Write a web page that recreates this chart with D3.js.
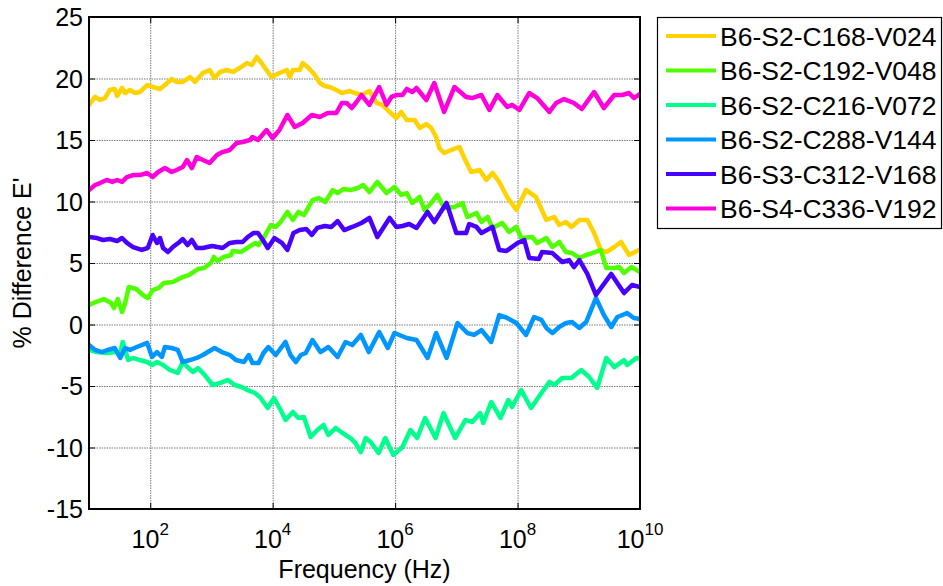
<!DOCTYPE html>
<html lang="en">
<head>
  <meta charset="UTF-8"/>
  <title>% Difference E' vs Frequency</title>
  <script src="https://d3js.org/d3.v7.min.js"></script>
  <style>
    body { margin: 0; background: #fff; }
    text { font-family: "Liberation Sans", Arial, sans-serif; fill: #000; }
  </style>
</head>
<body>
<script>
  // x values are log10(frequency in Hz), y values are % difference of E'
  var names = ["B6-S2-C168-V024", "B6-S2-C192-V048", "B6-S2-C216-V072",
               "B6-S2-C288-V144", "B6-S3-C312-V168", "B6-S4-C336-V192"];
  var colors = ["#ffd200", "#50ff00", "#00ff8c", "#0096ff", "#4800ff", "#ff00dc"];

  var xTicks = [1e2, 1e4, 1e6, 1e8, 1e10];
  var yTicks = [-15, -10, -5, 0, 5, 10, 15, 20, 25];

  var s168 = [[1.00,17.85],[1.10,18.50],[1.18,18.25],[1.26,18.41],[1.34,19.07],[1.42,19.15],[1.46,18.58],[1.54,19.23],[1.59,18.82],[1.67,19.07],[1.75,18.82],[1.83,18.90],[1.95,19.47],[2.04,19.31],[2.16,19.15],[2.24,19.47],[2.35,19.96],[2.43,19.72],[2.53,19.72],[2.65,20.12],[2.73,19.72],[2.86,20.45],[2.97,20.69],[3.05,20.04],[3.14,20.53],[3.25,20.69],[3.35,20.53],[3.46,20.85],[3.58,21.26],[3.66,21.10],[3.74,21.75],[3.84,21.10],[3.98,20.12],[4.11,20.45],[4.23,20.69],[4.28,20.12],[4.33,20.69],[4.44,20.69],[4.49,21.26],[4.57,20.93],[4.69,20.28],[4.77,19.63],[4.85,19.39],[4.93,19.31],
    [5.04,19.07],[5.13,18.82],[5.26,18.98],[5.34,18.82],[5.45,18.66],[5.58,18.98],[5.70,18.01],[5.79,17.85],[5.91,17.28],[6.02,16.79],[6.10,17.28],[6.19,16.63],[6.32,16.63],[6.40,15.98],[6.51,16.30],[6.59,15.98],[6.67,15.24],[6.72,14.35],[6.80,13.94],[6.92,14.19],[7.05,14.43],[7.13,13.54],[7.24,12.40],[7.38,12.56],[7.49,11.75],[7.59,12.32],[7.70,11.59],[7.83,10.37],[7.98,9.31],[8.14,10.93],[8.30,10.37],[8.47,8.50],[8.60,8.74],[8.68,8.09],[8.79,8.33],[8.88,7.93],[9.01,8.50],[9.14,8.50],[9.25,7.44],[9.36,6.06],[9.45,5.89],[9.58,6.30],[9.69,6.71],[9.82,5.65],[10.0,6.10]];

  var s192 = [[1.00,1.59],[1.11,1.83],[1.24,2.07],[1.36,1.75],[1.41,1.34],[1.47,2.07],[1.54,1.02],[1.59,1.75],[1.65,3.05],[1.77,2.89],[1.88,2.40],[1.96,2.15],[2.04,2.80],[2.14,2.97],[2.22,3.37],[2.37,3.46],[2.53,3.86],[2.63,4.02],[2.78,4.51],[2.88,4.59],[2.99,5.00],[3.04,5.49],[3.10,5.16],[3.20,5.49],[3.32,5.65],[3.35,5.98],[3.48,5.89],[3.61,6.30],[3.72,6.63],[3.77,6.46],[3.85,7.03],[3.97,8.09],[4.05,7.93],[4.13,8.33],[4.24,9.15],[4.33,8.50],[4.42,9.15],[4.51,8.90],[4.65,10.12],[4.75,10.28],[4.86,9.96],[4.98,10.93],[5.06,10.69],[5.16,11.02],[5.27,10.93],[5.39,11.10],[5.48,11.34],[5.58,10.77],[5.71,11.59],[5.86,10.69],[5.99,11.18],[6.10,10.53],[6.19,10.69],[6.28,9.88],[6.40,10.37],[6.48,9.31],[6.59,9.88],[6.69,10.53],[6.80,9.47],[6.97,9.55],[7.10,9.88],[7.18,8.74],[7.33,9.07],[7.41,8.33],[7.51,8.74],[7.59,7.85],[7.75,8.25],[7.86,7.52],[7.98,7.93],[8.06,7.03],[8.24,7.11],[8.32,6.63],[8.47,7.03],[8.57,6.30],[8.68,6.71],[8.79,5.89],[8.89,5.81],[9.01,5.41],[9.12,5.65],[9.22,5.81],[9.36,6.06],[9.45,4.59],[9.58,4.59],[9.66,4.67],[9.74,4.19],[9.86,4.67],[10.0,4.27]];

  var s216 = [[1.00,-2.07],[1.13,-2.24],[1.29,-2.32],[1.42,-2.24],[1.51,-2.32],[1.55,-1.42],[1.64,-2.89],[1.72,-2.72],[1.83,-2.89],[1.95,-3.05],[2.03,-3.29],[2.11,-3.05],[2.21,-3.29],[2.32,-3.70],[2.45,-3.94],[2.53,-3.05],[2.61,-3.46],[2.70,-3.86],[2.78,-3.54],[2.89,-4.11],[3.02,-4.92],[3.14,-4.76],[3.27,-4.51],[3.38,-4.92],[3.49,-5.08],[3.59,-5.33],[3.71,-5.57],[3.79,-5.89],[3.92,-6.79],[4.02,-5.98],[4.13,-6.95],[4.21,-7.76],[4.33,-7.11],[4.42,-7.60],[4.51,-7.52],[4.62,-9.15],[4.73,-8.58],[4.83,-8.17],[4.91,-8.98],[5.03,-8.41],[5.14,-8.82],[5.27,-9.23],[5.35,-9.63],[5.44,-10.37],[5.52,-9.23],[5.60,-9.55],[5.73,-10.45],[5.84,-9.23],[5.97,-10.61],[6.12,-9.96],[6.25,-8.58],[6.36,-9.23],[6.49,-7.60],[6.66,-9.23],[6.79,-7.20],[6.98,-9.23],[7.15,-7.76],[7.26,-7.93],[7.39,-7.20],[7.44,-8.01],[7.57,-6.30],[7.72,-7.60],[7.85,-6.14],[7.91,-6.71],[8.06,-5.33],[8.22,-6.79],[8.39,-5.57],[8.52,-4.67],[8.60,-4.92],[8.73,-4.35],[8.88,-4.35],[9.04,-3.70],[9.17,-4.27],[9.30,-5.16],[9.45,-2.72],[9.58,-3.46],[9.74,-2.89],[9.79,-3.29],[9.94,-2.72],[10.0,-2.80]];

  var s288 = [[1.00,-1.67],[1.10,-2.07],[1.21,-2.24],[1.31,-2.07],[1.42,-1.91],[1.51,-2.72],[1.59,-1.91],[1.67,-2.07],[1.78,-1.83],[1.95,-1.50],[2.03,-2.64],[2.11,-2.24],[2.19,-2.64],[2.24,-1.83],[2.35,-1.91],[2.45,-2.07],[2.53,-3.05],[2.65,-2.89],[2.76,-2.72],[2.86,-2.48],[3.05,-1.91],[3.17,-2.24],[3.30,-2.48],[3.40,-2.89],[3.53,-3.05],[3.61,-2.48],[3.67,-3.13],[3.77,-3.13],[3.85,-2.32],[3.93,-1.83],[4.05,-2.48],[4.21,-1.42],[4.29,-2.48],[4.38,-3.05],[4.46,-2.48],[4.54,-2.32],[4.65,-1.26],[4.78,-2.24],[4.91,-1.83],[5.06,-2.64],[5.19,-1.42],[5.30,-1.67],[5.44,-0.85],[5.57,-2.24],[5.74,-0.61],[5.88,-1.91],[5.99,-0.69],[6.19,-1.10],[6.35,-1.26],[6.53,-2.72],[6.67,-0.69],[6.84,-2.72],[7.02,0.12],[7.18,-0.69],[7.29,-0.85],[7.41,-0.45],[7.57,-1.42],[7.70,0.77],[7.83,0.53],[7.98,0.12],[8.14,-0.85],[8.27,0.61],[8.39,0.37],[8.47,-0.28],[8.57,-0.69],[8.68,-0.20],[8.79,0.12],[8.89,0.20],[9.01,-0.28],[9.12,0.20],[9.28,2.15],[9.41,0.77],[9.53,-0.20],[9.63,0.61],[9.79,0.93],[9.90,0.53],[10.0,0.45]];

  var s312 = [[1.00,7.11],[1.13,7.03],[1.23,6.87],[1.34,6.95],[1.46,6.79],[1.54,7.03],[1.62,6.63],[1.72,6.30],[1.86,6.06],[1.96,6.22],[2.04,7.28],[2.11,6.63],[2.16,7.03],[2.21,6.22],[2.29,5.89],[2.37,6.30],[2.48,6.71],[2.53,6.95],[2.61,6.46],[2.68,6.87],[2.76,6.22],[2.86,6.22],[3.01,6.38],[3.10,6.30],[3.18,6.22],[3.30,6.63],[3.41,6.71],[3.51,6.71],[3.59,7.11],[3.69,7.44],[3.76,7.44],[3.84,6.87],[3.92,6.22],[4.03,7.03],[4.15,6.63],[4.24,6.06],[4.34,7.44],[4.44,7.68],[4.55,7.76],[4.64,7.28],[4.73,7.85],[4.85,8.01],[4.96,7.93],[5.06,8.41],[5.17,7.68],[5.30,7.93],[5.45,8.25],[5.58,8.66],[5.71,7.11],[5.91,8.66],[6.02,7.93],[6.12,8.01],[6.23,8.17],[6.35,7.85],[6.53,9.15],[6.64,8.33],[6.84,9.88],[7.00,7.44],[7.16,7.44],[7.21,8.17],[7.33,7.93],[7.41,7.44],[7.59,7.93],[7.70,6.06],[7.82,5.98],[8.00,6.63],[8.11,6.87],[8.19,5.41],[8.35,5.33],[8.40,5.89],[8.57,5.81],[8.73,5.08],[8.84,5.24],[8.92,4.67],[9.01,5.24],[9.14,4.11],[9.28,2.40],[9.53,4.11],[9.74,2.56],[9.87,3.21],[10.0,3.05]];

  var s336 = [[1.00,10.93],[1.10,11.34],[1.18,11.50],[1.29,11.75],[1.38,11.59],[1.46,11.75],[1.54,11.59],[1.62,11.99],[1.72,12.15],[1.83,12.15],[1.95,12.32],[2.04,11.99],[2.13,12.40],[2.24,12.72],[2.35,12.40],[2.43,12.56],[2.53,12.80],[2.60,13.37],[2.68,12.72],[2.76,13.62],[2.86,13.37],[2.97,13.13],[3.09,13.78],[3.18,14.02],[3.30,14.19],[3.41,14.76],[3.51,14.84],[3.63,15.00],[3.67,15.24],[3.76,15.00],[3.90,15.81],[4.00,15.16],[4.11,15.81],[4.24,17.03],[4.36,16.06],[4.49,16.38],[4.64,17.03],[4.77,16.87],[4.90,17.20],[5.04,17.20],[5.13,18.01],[5.21,18.01],[5.29,17.60],[5.37,18.09],[5.45,18.66],[5.58,17.85],[5.74,19.31],[5.86,17.85],[5.94,18.50],[6.02,18.66],[6.12,18.66],[6.19,19.15],[6.28,18.90],[6.35,19.23],[6.51,18.25],[6.64,19.63],[6.80,17.28],[6.97,19.31],[7.16,18.50],[7.26,18.41],[7.41,18.66],[7.54,17.44],[7.67,18.66],[7.83,17.69],[7.91,17.85],[8.03,17.44],[8.19,18.82],[8.32,18.41],[8.52,17.28],[8.63,18.01],[8.76,18.33],[8.92,18.01],[9.05,17.52],[9.25,18.90],[9.41,17.60],[9.58,18.66],[9.71,18.66],[9.82,18.82],[9.90,18.41],[10.0,18.74]];

  var series = [s168, s192, s216, s288, s312, s336];

  var w = 943, h = 586;
  var padL = 89, padR = 640, padT = 17, padB = 509;

  var xScale = d3.scaleLog().domain([1e1, 1e10]).range([padL, padR]);
  var yScale = d3.scaleLinear().domain([-15, 25]).range([padB, padT]);

  var svg = d3.select("body").append("svg")
          .attr("width", w)
          .attr("height", h);

  svg.append("rect").attr("width", w).attr("height", h).attr("fill", "#fff");

  svg.append("clipPath").attr("id", "plotclip")
          .append("rect")
          .attr("x", padL).attr("y", padT)
          .attr("width", padR - padL).attr("height", padB - padT);

  // grid
  var gx = svg.append("g")
          .attr("transform", "translate(0," + padB + ")")
          .call(d3.axisBottom(xScale).tickValues(xTicks).tickSize(-(padB - padT)).tickFormat(""));
  var gy = svg.append("g")
          .attr("transform", "translate(" + padL + ",0)")
          .call(d3.axisLeft(yScale).tickValues(yTicks).tickSize(-(padR - padL)).tickFormat(""));
  [gx, gy].forEach(function(g) {
    g.select(".domain").remove();
    g.selectAll("line")
            .attr("stroke", "#7a7a7a")
            .attr("stroke-width", 1)
            .attr("stroke-dasharray", "1.5,1");
  });

  // data lines
  var line = d3.line()
          .x(function(d) { return xScale(Math.pow(10, d[0])); })
          .y(function(d) { return yScale(d[1]); });

  svg.append("g").attr("clip-path", "url(#plotclip)")
          .selectAll("path")
          .data(series)
          .enter()
          .append("path")
          .attr("d", line)
          .attr("fill", "none")
          .attr("stroke", function(d, i) { return colors[i]; })
          .attr("stroke-width", 4.5)
          .attr("stroke-linejoin", "round")
          .attr("stroke-linecap", "round");

  // inward ticks on all four sides
  var tickAxes = [
    [d3.axisBottom(xScale).tickValues(xTicks), "translate(0," + padB + ")"],
    [d3.axisTop(xScale).tickValues(xTicks), "translate(0," + padT + ")"],
    [d3.axisLeft(yScale).tickValues(yTicks), "translate(" + padL + ",0)"],
    [d3.axisRight(yScale).tickValues(yTicks), "translate(" + padR + ",0)"]
  ];
  tickAxes.forEach(function(a) {
    var g = svg.append("g").attr("transform", a[1])
            .call(a[0].tickSize(-6).tickFormat(""));
    g.select(".domain").remove();
    g.selectAll("line").attr("stroke", "#000").attr("stroke-width", 1);
  });

  svg.append("rect")
          .attr("x", padL).attr("y", padT)
          .attr("width", padR - padL).attr("height", padB - padT)
          .attr("fill", "none")
          .attr("stroke", "#000")
          .attr("stroke-width", 2);

  // y tick labels
  svg.selectAll(".ylab")
          .data(yTicks)
          .enter()
          .append("text")
          .attr("class", "ylab")
          .attr("x", padL - 6)
          .attr("y", function(d) { return yScale(d); })
          .attr("dy", "0.36em")
          .attr("text-anchor", "end")
          .style("font-size", "25px")
          .text(function(d) { return d; });

  // x tick labels as 10 with superscript exponent
  var xl = svg.selectAll(".xlab")
          .data(xTicks)
          .enter()
          .append("text")
          .attr("class", "xlab")
          .attr("x", function(d) { return xScale(d); })
          .attr("y", 548)
          .attr("text-anchor", "middle")
          .style("font-size", "25px");
  xl.append("tspan").text("10");
  xl.append("tspan")
          .attr("dy", -13)
          .style("font-size", "17px")
          .text(function(d) { return Math.round(Math.log10(d)); });

  // axis titles
  svg.append("text")
          .attr("x", (padL + padR) / 2)
          .attr("y", 578)
          .attr("text-anchor", "middle")
          .style("font-size", "25px")
          .text("Frequency (Hz)");

  svg.append("text")
          .attr("transform", "rotate(-90)")
          .attr("x", -(padT + padB) / 2)
          .attr("y", 31)
          .attr("text-anchor", "middle")
          .style("font-size", "25px")
          .text("% Difference E'");

  // legend
  var legend = svg.append("g");
  legend.append("rect")
          .attr("x", 657.5).attr("y", 17.5)
          .attr("width", 284).attr("height", 211)
          .attr("fill", "#fff")
          .attr("stroke", "#000")
          .attr("stroke-width", 1.2);

  var rows = legend.selectAll(".row")
          .data(names)
          .enter()
          .append("g")
          .attr("class", "row")
          .attr("transform", function(d, i) { return "translate(0," + (36 + i * 34.5) + ")"; });
  rows.append("line")
          .attr("x1", 666).attr("x2", 716)
          .attr("stroke", function(d, i) { return colors[i]; })
          .attr("stroke-width", 4);
  rows.append("text")
          .attr("x", 720)
          .attr("dy", "0.36em")
          .style("font-size", "26.5px")
          .text(function(d) { return d; });
</script>
</body>
</html>
